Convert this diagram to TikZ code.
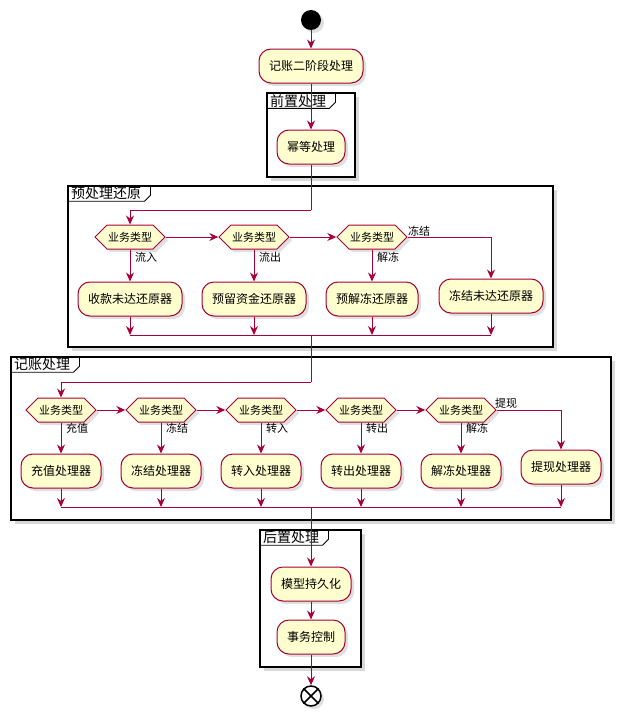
\documentclass[tikz,border=0pt]{standalone}
\usepackage{fontspec}
\setmainfont{Noto Sans CJK SC}
\usetikzlibrary{shapes.symbols, arrows.meta, shadows}
\definecolor{umlred}{RGB}{168, 0, 54}
\definecolor{umlfill}{RGB}{254, 254, 206}

\begin{document}
\begin{tikzpicture}[x=1pt, y=-1pt,
  umlshadow/.style={drop shadow={shadow xshift=3pt, shadow yshift=-3pt, opacity=0.25}},
  act/.style={draw=umlred, fill=umlfill, line width=1pt, rounded corners=12pt, minimum height=34pt, inner xsep=10pt, font=\fontsize{12}{14}\selectfont, umlshadow},
  choice/.style={signal, signal to=west and east, draw=umlred, fill=umlfill, line width=1pt, minimum height=24pt, inner xsep=1pt, inner ysep=0pt, font=\fontsize{11}{13}\selectfont, umlshadow},
  guard/.style={anchor=west, inner sep=1pt, font=\fontsize{11}{13}\selectfont},
  part/.style={draw=black, line width=1.5pt, fill=white, drop shadow={shadow xshift=4pt, shadow yshift=-4pt, opacity=0.3}},
  ptitle/.style={anchor=north west, inner xsep=3pt, inner ysep=1pt, font=\fontsize{14}{16}\selectfont},
  tab/.style={draw=black, line width=0.8pt},
  flow/.style={draw=umlred, line width=1pt, -{Stealth[length=9pt, width=8pt, inset=3pt]}},
  seg/.style={draw=umlred, line width=1pt}
]
  \useasboundingbox (0,0) rectangle (628,723);

  \draw[part] (267,93) rectangle (355,177);
  \node[ptitle] (pre) at (267,93) {前置处理};
  \draw[tab] (pre.south west) -- (pre.south east) -- ([xshift=6pt, yshift=6pt]pre.south east) -- ([xshift=6pt]pre.north east);

  \draw[part] (68,186) rectangle (553,347);
  \node[ptitle] (restore) at (68,186) {预处理还原};
  \draw[tab] (restore.south west) -- (restore.south east) -- ([xshift=6pt, yshift=6pt]restore.south east) -- ([xshift=6pt]restore.north east);

  \draw[part] (11,357) rectangle (611,520);
  \node[ptitle] (book) at (11,357) {记账处理};
  \draw[tab] (book.south west) -- (book.south east) -- ([xshift=6pt, yshift=6pt]book.south east) -- ([xshift=6pt]book.north east);

  \draw[part] (260,530) rectangle (361,667);
  \node[ptitle] (post) at (260,530) {后置处理};
  \draw[tab] (post.south west) -- (post.south east) -- ([xshift=6pt, yshift=6pt]post.south east) -- ([xshift=6pt]post.north east);

  \node[circle, fill=black, minimum size=20pt, inner sep=0pt, umlshadow] (start) at (311,20) {};
  \node[act] (twophase) at (311,66) {记账二阶段处理};
  \node[act] (idem) at (311,147) {幂等处理};

  \node[choice] (ra) at (130,237) {业务类型};
  \node[choice] (rb) at (254,237) {业务类型};
  \node[choice] (rc) at (372,237) {业务类型};
  \node[guard] (ga) at (134,257) {流入};
  \node[guard] (gb) at (258,257) {流出};
  \node[guard] (gc) at (376,257) {解冻};
  \node[guard] (gd) at (407,231) {冻结};
  \node[act] (ra1) at (130,299) {收款未达还原器};
  \node[act] (rb1) at (254,299) {预留资金还原器};
  \node[act] (rc1) at (372,299) {预解冻还原器};
  \node[act] (rd1) at (491,296) {冻结未达还原器};

  \node[choice] (ka) at (61,410) {业务类型};
  \node[choice] (kb) at (161,410) {业务类型};
  \node[choice] (kc) at (261,410) {业务类型};
  \node[choice] (kd) at (361,410) {业务类型};
  \node[choice] (ke) at (461,410) {业务类型};
  \node[guard] (ha) at (65,428) {充值};
  \node[guard] (hb) at (165,428) {冻结};
  \node[guard] (hc) at (265,428) {转入};
  \node[guard] (hd) at (365,428) {转出};
  \node[guard] (he) at (465,428) {解冻};
  \node[guard] (hf) at (494,403) {提现};
  \node[act] (ka1) at (61,471) {充值处理器};
  \node[act] (kb1) at (161,471) {冻结处理器};
  \node[act] (kc1) at (261,471) {转入处理器};
  \node[act] (kd1) at (361,471) {转出处理器};
  \node[act] (ke1) at (461,471) {解冻处理器};
  \node[act] (kf1) at (561,467) {提现处理器};

  \node[act] (persist) at (311,584) {模型持久化};
  \node[act] (txn) at (311,637) {事务控制};
  \node[circle, draw=black, fill=white, line width=1.5pt, minimum size=20pt, inner sep=0pt, umlshadow] (stop) at (311,696) {};
  \draw[line width=1.5pt] (stop.45) -- (stop.225) (stop.135) -- (stop.315);

  \coordinate (j1) at (311,210);
  \coordinate (m1) at (311,335);
  \coordinate (j2) at (311,382);
  \coordinate (m2) at (311,507);

  \draw[flow] (start) -- (twophase);
  \draw[flow] (twophase) -- (idem);
  \draw[seg] (idem.south) -- (j1);
  \draw[flow] (j1) -| (ra.north);
  \draw[flow] (ra.east) -- (rb.west);
  \draw[flow] (rb.east) -- (rc.west);
  \draw[flow] (rc.east) -| (rd1.north);
  \draw[flow] (ra.south) -- (ra1.north);
  \draw[flow] (rb.south) -- (rb1.north);
  \draw[flow] (rc.south) -- (rc1.north);
  \foreach \b in {ra1, rb1, rc1, rd1}
    \draw[flow] (\b.south) -- (\b.south |- m1);
  \draw[seg] (ra1.south |- m1) -- (rd1.south |- m1);
  \draw[seg] (m1) -- (j2);
  \draw[flow] (j2) -| (ka.north);

  \draw[flow] (ka.east) -- (kb.west);
  \draw[flow] (kb.east) -- (kc.west);
  \draw[flow] (kc.east) -- (kd.west);
  \draw[flow] (kd.east) -- (ke.west);
  \draw[flow] (ke.east) -| (kf1.north);
  \foreach \d in {ka, kb, kc, kd, ke}
    \draw[flow] (\d.south) -- (\d1.north);
  \foreach \b in {ka1, kb1, kc1, kd1, ke1, kf1}
    \draw[flow] (\b.south) -- (\b.south |- m2);
  \draw[seg] (ka1.south |- m2) -- (kf1.south |- m2);
  \draw[flow] (m2) -- (persist.north);
  \draw[flow] (persist) -- (txn);
  \draw[flow] (txn) -- (stop);
\end{tikzpicture}
\end{document}
